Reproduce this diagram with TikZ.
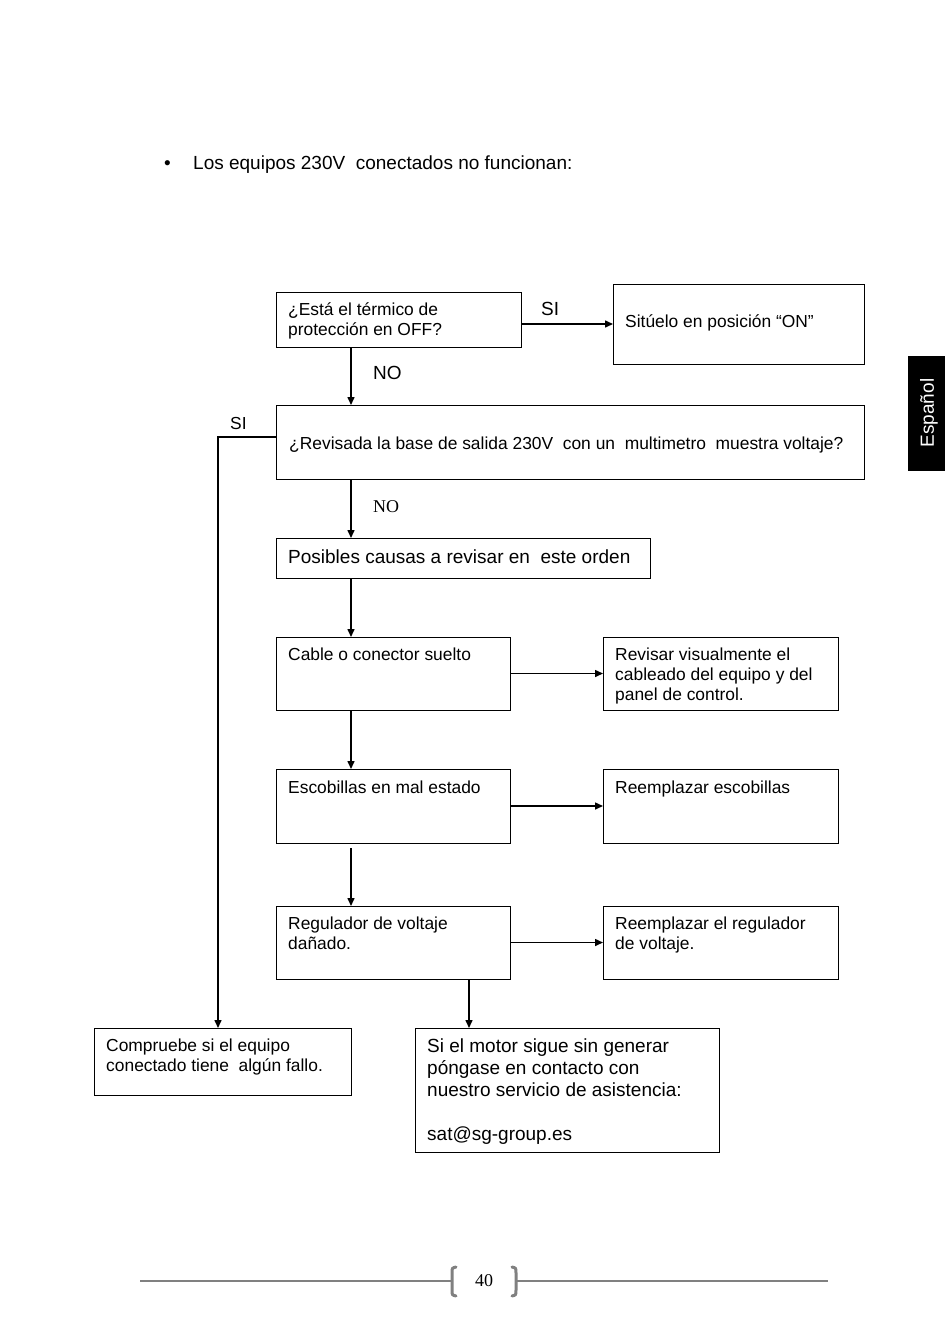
\documentclass[tikz,border=0pt]{standalone}
\usepackage{fontspec}
\setmainfont{Liberation Sans}
\newfontfamily\serifnum{Liberation Serif}
\usetikzlibrary{arrows.meta}
\tikzset{
  box/.style={draw, line width=1pt, inner sep=0pt, outer sep=0pt, anchor=north west},
  txt/.style={inner sep=0pt, anchor=base west, font=\fontsize{17.4}{20}\selectfont},
  bigtxt/.style={inner sep=0pt, anchor=base west, font=\fontsize{19}{22}\selectfont},
  arr/.style={line width=1.5pt, -{Triangle[length=8pt,width=7pt]}},
  footline/.style={draw=black!50, line width=1.6pt},
  bracket/.style={draw=black!50, line width=3pt, line cap=round}
}
\begin{document}
\begin{tikzpicture}[x=1pt,y=-1pt]
\useasboundingbox (0,0) rectangle (950,1336);
\fill[white] (0,0) rectangle (950,1336);

% heading
\node[bigtxt] (bul) at (164,169) {\textbullet};
\node[bigtxt] (head) at (193,169) {Los equipos 230V\ \ conectados no funcionan:};

% side tab
\fill[black] (908,356) rectangle (945,471);
\node[rotate=90, text=white, inner sep=0pt, font=\fontsize{19}{22}\selectfont] (tab) at (929,413) {Español};

% boxes
\node[box, minimum width=245pt, minimum height=55pt] (b1) at (276,292) {};
\node[box, minimum width=251pt, minimum height=80pt] (b2) at (613,284) {};
\node[box, minimum width=588pt, minimum height=74pt] (b3) at (276,405) {};
\node[box, minimum width=374pt, minimum height=40pt] (b4) at (276,538) {};
\node[box, minimum width=234pt, minimum height=73pt] (b5) at (276,637) {};
\node[box, minimum width=235pt, minimum height=73pt] (b6) at (603,637) {};
\node[box, minimum width=234pt, minimum height=74pt] (b7) at (276,769) {};
\node[box, minimum width=235pt, minimum height=74pt] (b8) at (603,769) {};
\node[box, minimum width=234pt, minimum height=73pt] (b9) at (276,906) {};
\node[box, minimum width=235pt, minimum height=73pt] (b10) at (603,906) {};
\node[box, minimum width=257pt, minimum height=67pt] (b11) at (94,1028) {};
\node[box, minimum width=304pt, minimum height=124pt] (b12) at (415,1028) {};

% texts
\node[txt] (t1) at (288,315) {\parbox[t]{300pt}{¿Está el térmico de\\protección en OFF?}};
\node[txt] (t2) at (625,327) {Sitúelo en posición “ON”};
\node[txt] (t3) at (289,449) {¿Revisada la base de salida 230V\ \ con un\ \ multimetro\ \ muestra voltaje?};
\node[bigtxt] (t4) at (288,563) {Posibles causas a revisar en\ \ este orden};
\node[txt] (t5) at (288,660) {Cable o conector suelto};
\node[txt] (t6) at (615,660) {\parbox[t]{300pt}{Revisar visualmente el\\cableado del equipo y del\\panel de control.}};
\node[txt] (t7) at (288,793) {Escobillas en mal estado};
\node[txt] (t8) at (615,793) {Reemplazar escobillas};
\node[txt] (t9) at (288,929) {\parbox[t]{300pt}{Regulador de voltaje\\dañado.}};
\node[txt] (t10) at (615,929) {\parbox[t]{300pt}{Reemplazar el regulador\\de voltaje.}};
\node[txt] (t11) at (106,1051) {\parbox[t]{300pt}{Compruebe si el equipo\\conectado tiene\ \ algún fallo.}};
\node[bigtxt] (t12) at (427,1052) {\parbox[t]{300pt}{Si el motor sigue sin generar\\póngase en contacto con\\nuestro servicio de asistencia:\\[22pt]sat@sg-group.es}};

% labels
\node[bigtxt] (si1) at (541,315) {SI};
\node[bigtxt] (no1) at (373,379) {NO};
\node[txt] (si2) at (230,429) {SI};
\node[inner sep=0pt, anchor=base west, font=\serifnum\fontsize{18}{20}\selectfont] (no2) at (373,512) {NO};

% connectors
\draw[arr] (b1.east |- b2.west) -- (b2.west);
\draw[arr] ([xshift=75pt]b1.south west) -- ([xshift=75pt]b3.north west);
\draw[arr] ([yshift=5pt]b3.west) -| ([xshift=124pt]b11.north west);
\draw[arr] ([xshift=75pt]b3.south west) -- ([xshift=75pt]b4.north west);
\draw[arr] ([xshift=75pt]b4.south west) -- ([xshift=75pt]b5.north west);
\draw[arr] (b5.east) -- (b6.west);
\draw[arr] ([xshift=75pt]b5.south west) -- ([xshift=75pt]b7.north west);
\draw[arr] (b7.east) -- (b8.west);
\draw[arr] ([xshift=75pt,yshift=-5pt]b7.south west) -- ([xshift=75pt]b9.north west);
\draw[arr] (b9.east) -- (b10.west);
\draw[arr] ([xshift=54pt]b12.north west |- b9.south) -- ([xshift=54pt]b12.north west);

% footer
\node[inner sep=0pt, font=\serifnum\fontsize{18}{20}\selectfont] (pg) at (484,1281) {40};
\draw[footline] (140,1281) -- (452,1281);
\draw[footline] (516,1281) -- (828,1281);
\draw[bracket] (456,1267) .. controls (452,1268) .. (452,1273) -- (452,1290) .. controls (452,1295) .. (456,1296);
\draw[bracket] (512,1267) .. controls (516,1268) .. (516,1273) -- (516,1290) .. controls (516,1295) .. (512,1296);
\end{tikzpicture}
\end{document}
